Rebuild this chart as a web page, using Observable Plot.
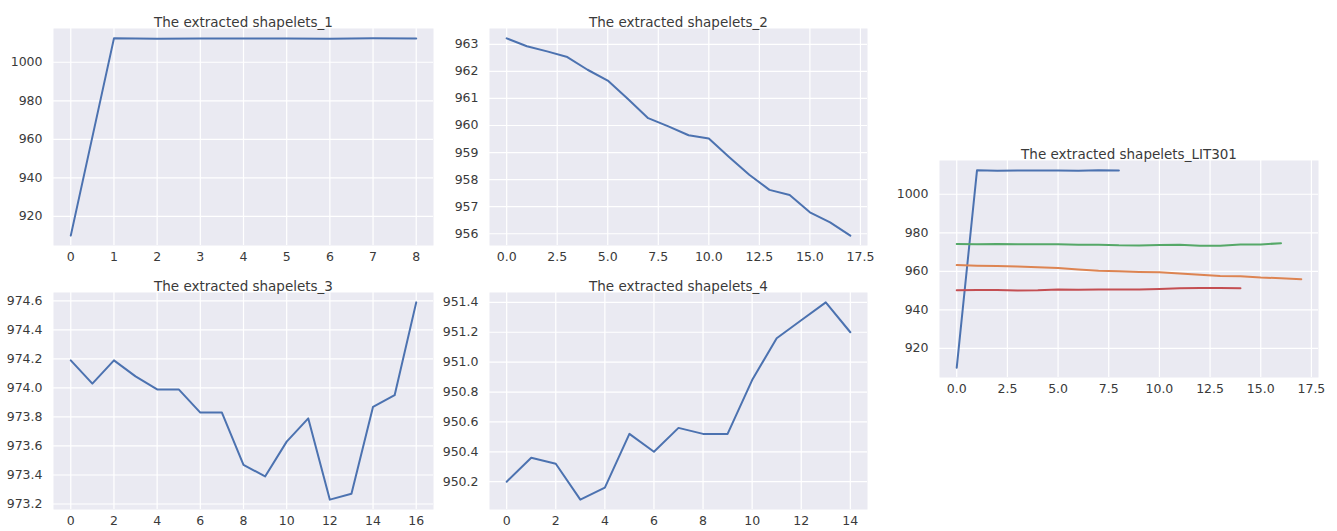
<!DOCTYPE html>
<html><head><meta charset="utf-8">
<script src="https://cdn.jsdelivr.net/npm/d3@7"></script>
<script src="https://cdn.jsdelivr.net/npm/@observablehq/plot@0.6"></script>
<style>
body{margin:0;background:#fff;}
#root{position:relative;width:1337px;height:531px;overflow:hidden;font-family:"DejaVu Sans",sans-serif;}
#root svg{position:absolute;overflow:visible;}
</style></head><body><div id="root"></div>
<script>
// ---- data ----
const shapelet1 = [910.0, 1012.4, 1012.2, 1012.3, 1012.3, 1012.3, 1012.2, 1012.4, 1012.3];
const shapelet2 = [963.22, 962.93, 962.74, 962.53, 962.06, 961.66, 960.98, 960.27, 959.97, 959.64, 959.52, 958.84, 958.18, 957.62, 957.43, 956.79, 956.42, 955.93];
const shapelet3 = [974.19, 974.03, 974.19, 974.08, 973.99, 973.99, 973.83, 973.83, 973.47, 973.39, 973.63, 973.79, 973.23, 973.27, 973.87, 973.95, 974.59];
const shapelet4 = [950.20, 950.36, 950.32, 950.08, 950.16, 950.52, 950.40, 950.56, 950.52, 950.52, 950.88, 951.16, 951.28, 951.40, 951.20];

const titles = ["The extracted shapelets_1", "The extracted shapelets_2", "The extracted shapelets_3", "The extracted shapelets_4", "The extracted shapelets_LIT301"];

const xTicksInt8 = [0, 1, 2, 3, 4, 5, 6, 7, 8];
const xTicksHalf = [0, 2.5, 5, 7.5, 10, 12.5, 15, 17.5];
const xTicksEven16 = [0, 2, 4, 6, 8, 10, 12, 14, 16];
const xTicksEven14 = [0, 2, 4, 6, 8, 10, 12, 14];
const yTicks1 = [920, 940, 960, 980, 1000];
const yTicks2 = [956, 957, 958, 959, 960, 961, 962, 963];
const yTicks3 = [973.2, 973.4, 973.6, 973.8, 974.0, 974.2, 974.4, 974.6];
const yTicks4 = [950.2, 950.4, 950.6, 950.8, 951.0, 951.2, 951.4];

// ---- styles ----
const BLUE = "#4C72B0", ORANGE = "#DD8452", GREEN = "#55A868", RED = "#C44E52";
const BG = "#EAEAF2", TEXT = "#3a3a3a";
const ML = 53, MT = 28, MR = 12, MB = 22;

const panels = [
  {title: titles[0], series: [[shapelet1, BLUE]], box: [53, 28, 433, 245], xTicks: xTicksInt8, yTicks: yTicks1, xFmt: d3.format("d"), yFmt: d3.format("d")},
  {title: titles[1], series: [[shapelet2, BLUE]], box: [489, 28, 867, 245], xTicks: xTicksHalf, yTicks: yTicks2, xFmt: d3.format(".1f"), yFmt: d3.format("d")},
  {title: titles[2], series: [[shapelet3, BLUE]], box: [53, 292, 433, 509], xTicks: xTicksEven16, yTicks: yTicks3, xFmt: d3.format("d"), yFmt: d3.format(".1f")},
  {title: titles[3], series: [[shapelet4, BLUE]], box: [489, 292, 867, 509], xTicks: xTicksEven14, yTicks: yTicks4, xFmt: d3.format("d"), yFmt: d3.format(".1f")},
  {title: titles[4], series: [[shapelet1, BLUE], [shapelet2, ORANGE], [shapelet3, GREEN], [shapelet4, RED]], box: [939, 160, 1318, 377], xTicks: xTicksHalf, yTicks: yTicks1, xFmt: d3.format(".1f"), yFmt: d3.format("d")}
];

function padded([a, b]) { const m = (b - a) * 0.05; return [a - m, b + m]; }

const root = document.getElementById("root");
for (const p of panels) {
  const data = p.series.map(([vals, color]) => vals.map((v, i) => ({i, v, color})));
  const all = data.flat();
  const [x0, y0, x1, y1] = p.box;
  const svg = Plot.plot({
    width: (x1 - x0) + ML + MR,
    height: (y1 - y0) + MT + MB,
    marginLeft: ML, marginTop: MT, marginRight: MR, marginBottom: MB,
    style: {fontFamily: "DejaVu Sans, sans-serif", fontSize: "12.5px", color: TEXT, background: "transparent"},
    x: {domain: padded(d3.extent(all, d => d.i)), axis: null},
    y: {domain: padded(d3.extent(all, d => d.v)), axis: null},
    marks: [
      Plot.frame({fill: BG, stroke: null}),
      Plot.gridX(p.xTicks, {stroke: "white", strokeOpacity: 1, strokeWidth: 1.2}),
      Plot.gridY(p.yTicks, {stroke: "white", strokeOpacity: 1, strokeWidth: 1.2}),
      Plot.axisX(p.xTicks, {tickSize: 0, tickPadding: 7, tickFormat: p.xFmt, fill: TEXT, fontSize: 12.5, label: null}),
      Plot.axisY(p.yTicks, {tickSize: 0, tickPadding: 11, tickFormat: p.yFmt, fill: TEXT, fontSize: 12.5, label: null}),
      ...data.map(d => Plot.line(d, {x: "i", y: "v", stroke: d[0].color, strokeWidth: 2})),
      Plot.text([p.title], {frameAnchor: "top", dy: -11, fontSize: 13.5, fill: TEXT})
    ]
  });
  svg.style.left = (x0 - ML) + "px";
  svg.style.top = (y0 - MT) + "px";
  root.appendChild(svg);
}
</script>
</body></html>
